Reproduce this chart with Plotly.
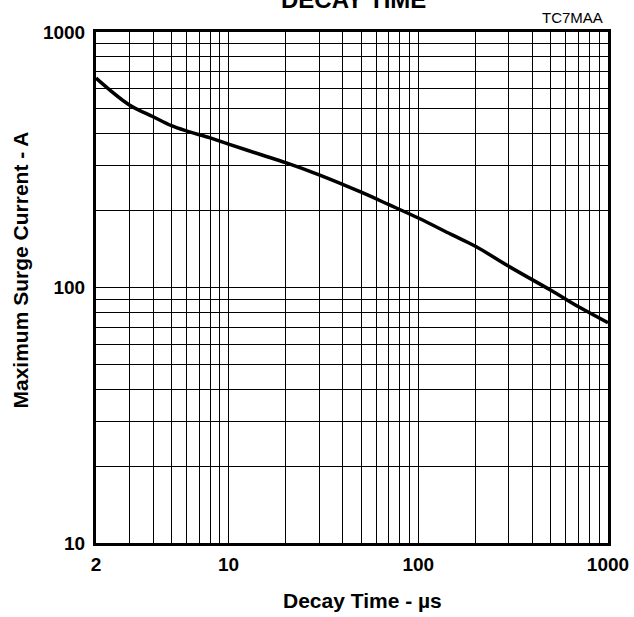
import plotly.graph_objects as go

decay_time = [2, 3, 4, 5, 6, 8, 10, 15, 20, 30, 50, 70, 100, 150, 200, 300, 500, 700, 1000]
surge_current = [660, 518, 466, 430, 410, 385, 364, 330, 308, 276, 236, 211, 187, 161, 145, 121, 97.5, 84, 72.8]

x_grid = [2, 3, 4, 5, 6, 7, 8, 9, 10, 20, 30, 40, 50, 60, 70, 80, 90, 100,
          200, 300, 400, 500, 600, 700, 800, 900, 1000]
x_labels = {2: "2", 10: "10", 100: "100", 1000: "1000"}
y_grid = [10, 20, 30, 40, 50, 60, 70, 80, 90, 100,
          200, 300, 400, 500, 600, 700, 800, 900, 1000]
y_labels = {10: "10", 100: "100", 1000: "1000"}

FONT = "Liberation Sans, Arial, Helvetica, sans-serif"
L, R, T, B = 96, 26, 32, 74
W, H = 634, 617
PW, PH = W - L - R, H - T - B

fig = go.Figure()
fig.add_trace(go.Scatter(
    x=decay_time, y=surge_current, mode="lines",
    line=dict(color="black", width=3.5, shape="spline", smoothing=1.0),
    hoverinfo="skip", showlegend=False,
))

fig.update_xaxes(
    type="log", range=[0.30103, 3], automargin=False,
    tickvals=x_grid, ticktext=[x_labels.get(v, "") for v in x_grid],
    showgrid=True, gridcolor="black", gridwidth=1,
    showline=True, linecolor="black", linewidth=3, mirror=True,
    ticks="", zeroline=False, ticklabelstandoff=2,
    tickfont=dict(family=FONT, size=19, color="black", weight="bold"),
)
fig.update_yaxes(
    type="log", range=[1, 3], automargin=False,
    tickvals=y_grid, ticktext=[y_labels.get(v, "") for v in y_grid],
    showgrid=True, gridcolor="black", gridwidth=1,
    showline=True, linecolor="black", linewidth=3, mirror=True,
    ticks="", zeroline=False, ticklabelstandoff=4,
    tickfont=dict(family=FONT, size=19, color="black", weight="bold"),
)

def px_x(px):
    return (px - L) / PW

def px_y(py):
    return (H - B - py) / PH

fig.add_annotation(
    text="Decay Time - µs", xref="paper", yref="paper",
    x=px_x(362), y=px_y(601), xanchor="center", yanchor="middle", showarrow=False,
    font=dict(family=FONT, size=21, color="black", weight="bold"),
)
fig.add_annotation(
    text="Maximum Surge Current - A", xref="paper", yref="paper", textangle=-90,
    x=px_x(19.5), y=px_y(270), xanchor="center", yanchor="middle", showarrow=False,
    font=dict(family=FONT, size=21, color="black", weight="bold"),
)
fig.add_annotation(
    text="DECAY TIME", xref="paper", yref="paper",
    x=px_x(353), y=px_y(-1), xanchor="center", yanchor="middle", showarrow=False,
    font=dict(family=FONT, size=24, color="black", weight="bold"),
)
fig.add_annotation(
    text="TC7MAA", xref="paper", yref="paper",
    x=px_x(605), y=px_y(18), xanchor="right", yanchor="middle", showarrow=False,
    font=dict(family=FONT, size=15, color="black"),
)

fig.update_layout(
    width=W, height=H,
    margin=dict(l=L, r=R, t=T, b=B, autoexpand=False),
    paper_bgcolor="white", plot_bgcolor="white",
    font=dict(family=FONT, color="black"),
)

fig.write_html("out.html", config={"displayModeBar": False},
               post_script="document.body.style.margin='0px';")
